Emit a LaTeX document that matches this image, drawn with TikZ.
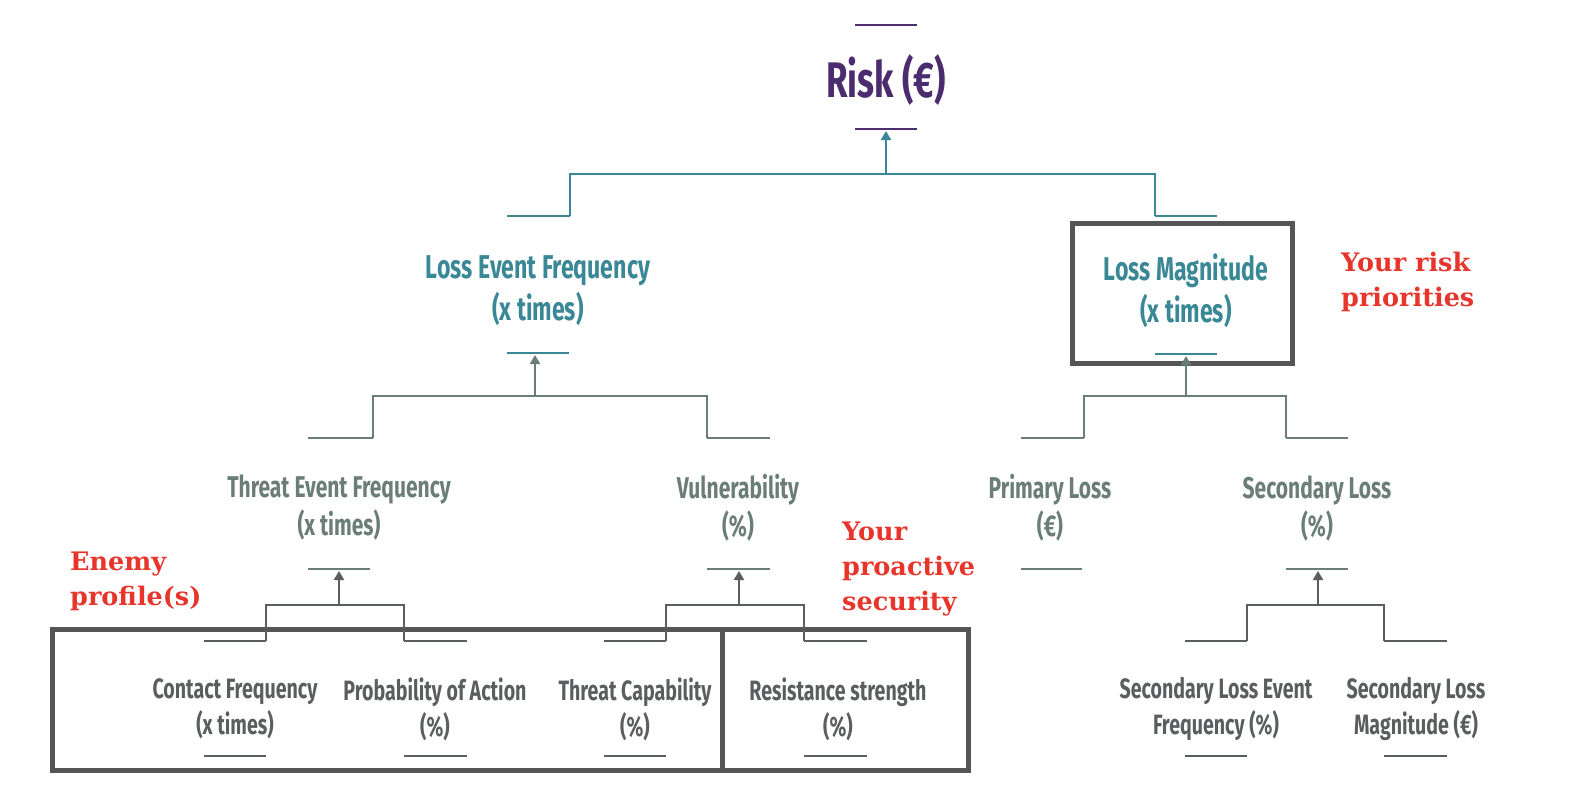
\documentclass[tikz,border=0pt]{standalone}
\usepackage{fontspec}
\usetikzlibrary{arrows.meta}
\newfontfamily\condf[FakeStretch=0.7]{Fira Sans}
\newfontfamily\notef{DejaVu Serif}
\definecolor{purp}{HTML}{4A2C6F}
\definecolor{tealc}{HTML}{3A8796}
\definecolor{ggreen}{HTML}{6A7D77}
\definecolor{dgray}{HTML}{5B5E5E}
\definecolor{redc}{HTML}{E8352C}
\definecolor{boxc}{HTML}{555555}
\tikzset{
  lbl/.style={align=center, inner sep=0pt},
  riskt/.style={lbl, text=purp, font=\condf\bfseries\fontsize{50}{56}\selectfont},
  lvla/.style={lbl, text=tealc, font=\condf\bfseries\fontsize{33}{42}\selectfont},
  lvlb/.style={lbl, text=ggreen, font=\condf\bfseries\fontsize{30}{38}\selectfont},
  lvlc/.style={lbl, text=dgray, font=\condf\bfseries\fontsize{28}{36}\selectfont},
  note/.style={inner sep=0pt, align=left, anchor=west, text=redc, font=\notef\bfseries\fontsize{25.5}{35}\selectfont},
  bar/.style={line width=2.6pt},
  conn/.style={line width=2.4pt},
  arr/.style={conn, -{Triangle[length=9pt,width=10pt]}},
  frame/.style={line width=5pt, draw=boxc}
}
\begin{document}
\begin{tikzpicture}[x=1pt,y=-1pt]
\useasboundingbox (0,0) rectangle (1580,788);

% ---------- text nodes ----------
\node[riskt] (risk) at (886,80) {Risk (€)};
\node[lvla] (lef) at (538,291) {Loss Event Frequency\\(x times)};
\node[lvla] (lm) at (1186,291) {Loss Magnitude\\(x times)};
\node[lvlb] (tef) at (339,508) {Threat Event Frequency\\(x times)};
\node[lvlb] (vul) at (738,508) {Vulnerability\\(\%)};
\node[lvlb] (pl) at (1050,508) {Primary Loss\\(€)};
\node[lvlb] (sl) at (1317,508) {Secondary Loss\\(\%)};
\node[lvlc] (cf) at (235,709) {Contact Frequency\\(x times)};
\node[lvlc] (poa) at (435,709) {Probability of Action\\(\%)};
\node[lvlc] (tc) at (635,709) {Threat Capability\\(\%)};
\node[lvlc] (rs) at (838,709) {Resistance strength\\(\%)};
\node[lvlc] (slef) at (1216,709) {Secondary Loss Event\\Frequency (\%)};
\node[lvlc] (slm) at (1416,709) {Secondary Loss\\Magnitude (€)};

\node[note] (enemy) at (70,581) {Enemy\\profile(s)};
\node[note] (proact) at (842,569) {Your\\proactive\\security};
\node[note] (prio) at (1341,282) {Your risk\\priorities};

% ---------- boxes ----------
\draw[frame] (1072,223) rectangle (1292,363);
\draw[frame] (52,629) rectangle (968,770);
\draw[frame] (722,629) -- (722,770);

% ---------- bar coordinates ----------
% Risk
\coordinate (riskT1) at (855,25);  \coordinate (riskT2) at (917,25);
\coordinate (riskB1) at (855,129); \coordinate (riskB2) at (917,129);
% level 1
\coordinate (lefT1) at (507,216);  \coordinate (lefT2) at (570,216);
\coordinate (lefB1) at (507,353);  \coordinate (lefB2) at (569,353);
\coordinate (lmT1) at (1155,216);  \coordinate (lmT2) at (1217,216);
\coordinate (lmB1) at (1155,354);  \coordinate (lmB2) at (1217,354);
% level 2
\coordinate (tefT1) at (308,438);  \coordinate (tefT2) at (373,438);
\coordinate (tefB1) at (308,569);  \coordinate (tefB2) at (370,569);
\coordinate (vulT1) at (707,438);  \coordinate (vulT2) at (770,438);
\coordinate (vulB1) at (707,569);  \coordinate (vulB2) at (770,569);
\coordinate (plT1) at (1021,438);  \coordinate (plT2) at (1084,438);
\coordinate (plB1) at (1021,569);  \coordinate (plB2) at (1082,569);
\coordinate (slT1) at (1286,438);  \coordinate (slT2) at (1348,438);
\coordinate (slB1) at (1286,569);  \coordinate (slB2) at (1348,569);
% level 3
\coordinate (cfT1) at (204,641);   \coordinate (cfT2) at (266,641);
\coordinate (cfB1) at (204,756);   \coordinate (cfB2) at (266,756);
\coordinate (poaT1) at (404,641);  \coordinate (poaT2) at (467,641);
\coordinate (poaB1) at (404,756);  \coordinate (poaB2) at (467,756);
\coordinate (tcT1) at (604,641);   \coordinate (tcT2) at (666,641);
\coordinate (tcB1) at (604,756);   \coordinate (tcB2) at (666,756);
\coordinate (rsT1) at (804,641);   \coordinate (rsT2) at (867,641);
\coordinate (rsB1) at (804,756);   \coordinate (rsB2) at (867,756);
\coordinate (slefT1) at (1185,641); \coordinate (slefT2) at (1247,641);
\coordinate (slefB1) at (1185,756); \coordinate (slefB2) at (1247,756);
\coordinate (slmT1) at (1384,641);  \coordinate (slmT2) at (1447,641);
\coordinate (slmB1) at (1384,756);  \coordinate (slmB2) at (1447,756);

% ---------- bars ----------
\draw[bar, purp] (riskT1) -- (riskT2);
\draw[bar, purp] (riskB1) -- (riskB2);
\draw[bar, tealc] (lefT1) -- (lefT2);
\draw[bar, tealc] (lefB1) -- (lefB2);
\draw[bar, tealc] (lmT1) -- (lmT2);
\draw[bar, tealc] (lmB1) -- (lmB2);
\foreach \n in {tef,vul,pl,sl}{
  \draw[bar, ggreen] (\n T1) -- (\n T2);
  \draw[bar, ggreen] (\n B1) -- (\n B2);
}
\foreach \n in {cf,poa,tc,rs,slef,slm}{
  \draw[bar, dgray] (\n T1) -- (\n T2);
  \draw[bar, dgray] (\n B1) -- (\n B2);
}

% ---------- connectors ----------
% Risk <- LEF, LM
\coordinate (jRisk) at (886,174);
\draw[conn, tealc] (lefT2) |- (jRisk) -| (lmT1);
\draw[arr, tealc] (jRisk) -- (886,131);
% LEF <- TEF, Vul
\coordinate (jLef) at (535,396);
\draw[conn, ggreen] (tefT2) |- (jLef) -| (vulT1);
\draw[arr, ggreen] (jLef) -- (535,355);
% LM <- PL, SL
\coordinate (jLm) at (1186,396);
\draw[conn, ggreen] (plT2) |- (jLm) -| (slT1);
\draw[arr, ggreen] (jLm) -- (1186,356);
% TEF <- CF, PoA
\coordinate (jTef) at (339,605);
\draw[conn, dgray] (cfT2) |- (jTef) -| (poaT1);
\draw[arr, dgray] (jTef) -- (339,571);
% Vul <- TC, RS
\coordinate (jVul) at (739,605);
\draw[conn, dgray] (tcT2) |- (jVul) -| (rsT1);
\draw[arr, dgray] (jVul) -- (739,571);
% SL <- SLEF, SLM
\coordinate (jSl) at (1318,605);
\draw[conn, dgray] (slefT2) |- (jSl) -| (slmT1);
\draw[arr, dgray] (jSl) -- (1318,571);
\end{tikzpicture}
\end{document}
